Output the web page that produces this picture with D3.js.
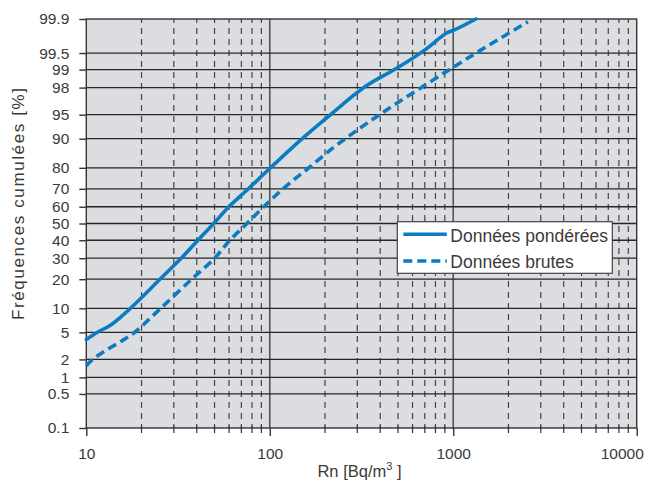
<!DOCTYPE html>
<html>
<head>
<meta charset="utf-8">
<script src="https://cdn.jsdelivr.net/npm/d3@7"></script>
<style>
body { margin: 0; background: #fff; }
svg { display: block; font-family: "Liberation Sans", Arial, sans-serif; }
</style>
</head>
<body>
<div id="chart"></div>
<script>
// radon concentrations (Bq/m3) and cumulative frequencies (%)
var rnPonderees = [10, 11.58, 13.46, 15.65, 18.43, 25.2, 32.8, 40.6, 49.5, 59.5, 76.5, 100.2, 149.2, 212.8, 334.5, 491.6, 686.3, 920.5, 1021.6, 1330];
var freqPonderees = [3.99, 5.06, 6.17, 8.12, 11.2, 19.96, 29.8, 40, 50, 59.7, 70, 79.8, 89.9, 94.94, 98.11, 99.05, 99.54, 99.8, 99.83, 99.9];

var rnBrutes = [10, 10.74, 12.64, 15.27, 18.43, 25.21, 37.5, 49.85, 60.3, 75.1, 93, 121, 161.5, 226.6, 310, 433.6, 658.4, 984, 1398, 2553];
var freqBrutes = [1.57, 1.96, 2.71, 3.67, 5.06, 9.82, 19.96, 29.8, 39.7, 50, 60.1, 70.9, 79.7, 87.8, 92.5, 95.7, 97.94, 99.06, 99.55, 99.885];

var seriesNames = ["Données pondérées", "Données brutes"];
var xTickValues = [10, 100, 1000, 10000];
var yTickValues = [0.1, 0.5, 1, 2, 5, 10, 20, 30, 40, 50, 60, 70, 80, 90, 95, 98, 99, 99.5, 99.9];
var yTickLabels = ["0.1", "0.5", "1", "2", "5", "10", "20", "30", "40", "50", "60", "70", "80", "90", "95", "98", "99", "99.5", "99.9"];

var blue = "#0a7cc2";
var textColor = "#3a3a3a";

// inverse normal cdf (Acklam), used for the probability axis
function probit(p) {
  var a = [-3.969683028665376e+01, 2.209460984245205e+02, -2.759285104469687e+02, 1.383577518672690e+02, -3.066479806614716e+01, 2.506628277459239e+00];
  var b = [-5.447609879822406e+01, 1.615858368580409e+02, -1.556989798598866e+02, 6.680131188771972e+01, -1.328068155288572e+01];
  var c = [-7.784894002430293e-03, -3.223964580411365e-01, -2.400758277161838e+00, -2.549732539343734e+00, 4.374664141464968e+00, 2.938163982698783e+00];
  var d = [7.784695709041462e-03, 3.224671290700398e-01, 2.445134137142996e+00, 3.754408661907416e+00];
  var pl = 0.02425, q, r;
  if (p < pl) {
    q = Math.sqrt(-2 * Math.log(p));
    return (((((c[0]*q+c[1])*q+c[2])*q+c[3])*q+c[4])*q+c[5]) / ((((d[0]*q+d[1])*q+d[2])*q+d[3])*q+1);
  }
  if (p > 1 - pl) {
    q = Math.sqrt(-2 * Math.log(1 - p));
    return -(((((c[0]*q+c[1])*q+c[2])*q+c[3])*q+c[4])*q+c[5]) / ((((d[0]*q+d[1])*q+d[2])*q+d[3])*q+1);
  }
  q = p - 0.5; r = q * q;
  return (((((a[0]*r+a[1])*r+a[2])*r+a[3])*r+a[4])*r+a[5])*q / (((((b[0]*r+b[1])*r+b[2])*r+b[3])*r+b[4])*r+1);
}

var margin = {top: 19, right: 10.3, bottom: 56, left: 86.3},
  width = 647 - margin.left - margin.right,
  height = 484 - margin.top - margin.bottom;

var svg = d3.select("#chart")
  .append("svg")
  .attr("width", 647)
  .attr("height", 484);

var chart = svg.append("g")
  .attr("transform", "translate(" + margin.left + "," + margin.top + ")");

var xScale = d3.scaleLog().domain([10, 10000]).range([0, width]);
var zScale = d3.scaleLinear().domain([probit(0.001), probit(0.999)]).range([height, 0]);
function yPos(pct) { return zScale(probit(pct / 100)); }

// background
chart.append("rect")
  .attr("width", width)
  .attr("height", height)
  .attr("fill", "#dcdde0");

// vertical grid
var minorX = xScale.ticks().filter(function(v) { return xTickValues.indexOf(v) < 0; });
chart.append("g").selectAll("line")
  .data(minorX)
  .enter().append("line")
  .attr("x1", function(d) { return xScale(d); })
  .attr("x2", function(d) { return xScale(d); })
  .attr("y1", height)
  .attr("y2", 0)
  .attr("stroke", "#444")
  .attr("stroke-width", 1.2)
  .attr("stroke-dasharray", "6,5")
  .attr("stroke-dashoffset", 2);

chart.append("g").selectAll("line")
  .data(xTickValues.slice(1, -1))
  .enter().append("line")
  .attr("x1", function(d) { return xScale(d); })
  .attr("x2", function(d) { return xScale(d); })
  .attr("y1", height)
  .attr("y2", 0)
  .attr("stroke", "#555")
  .attr("stroke-width", 1.6);

// horizontal grid
chart.append("g").selectAll("line")
  .data(yTickValues.slice(1, -1))
  .enter().append("line")
  .attr("x1", 0)
  .attr("x2", width)
  .attr("y1", function(d) { return yPos(d); })
  .attr("y2", function(d) { return yPos(d); })
  .attr("stroke", "#262626")
  .attr("stroke-width", 1.3);

// frame
chart.append("rect")
  .attr("width", width)
  .attr("height", height)
  .attr("fill", "none")
  .attr("stroke", "#333")
  .attr("stroke-width", 1.4);

// minor x ticks
chart.append("g").selectAll("line")
  .data(minorX)
  .enter().append("line")
  .attr("x1", function(d) { return xScale(d); })
  .attr("x2", function(d) { return xScale(d); })
  .attr("y1", height - 2)
  .attr("y2", height + 5)
  .attr("stroke", "#333")
  .attr("stroke-width", 1.2);

// axes
var bottomAxis = d3.axisBottom(xScale)
  .tickValues(xTickValues)
  .tickFormat(d3.format("d"))
  .tickSize(8)
  .tickSizeOuter(0)
  .tickPadding(12);

var leftAxis = d3.axisLeft(zScale)
  .tickValues(yTickValues.map(function(p) { return probit(p / 100); }))
  .tickFormat(function(d, i) { return yTickLabels[i]; })
  .tickSize(7)
  .tickSizeOuter(0)
  .tickPadding(10);

var gx = chart.append("g")
  .attr("transform", "translate(0," + height + ")")
  .call(bottomAxis);

var gy = chart.append("g")
  .call(leftAxis);

[gx, gy].forEach(function(g) {
  g.select(".domain").remove();
  g.selectAll(".tick line").attr("stroke", "#333").attr("stroke-width", 1.4);
  g.selectAll(".tick text")
    .attr("fill", textColor)
    .style("font-family", "'Liberation Sans', Arial, sans-serif")
    .style("font-size", "15.5px");
});
gx.selectAll(".tick text").filter(function(d) { return d === 10000; }).attr("dx", -15);

// curves
var line = d3.line()
  .x(function(d) { return xScale(d[0]); })
  .y(function(d) { return yPos(d[1]); })
  .curve(d3.curveCatmullRom.alpha(0.5));

chart.append("path")
  .datum(d3.zip(rnPonderees, freqPonderees))
  .attr("d", line)
  .attr("fill", "none")
  .attr("stroke", blue)
  .attr("stroke-width", 3.6)
  .attr("stroke-linecap", "round");

chart.append("path")
  .datum(d3.zip(rnBrutes, freqBrutes))
  .attr("d", line)
  .attr("fill", "none")
  .attr("stroke", blue)
  .attr("stroke-width", 3.6)
  .attr("stroke-dasharray", "9,5");

// legend
var legend = svg.append("g")
  .attr("transform", "translate(397.3,221.7)");

legend.append("rect")
  .attr("width", 215)
  .attr("height", 51.6)
  .attr("fill", "#fff")
  .attr("stroke", "#444")
  .attr("stroke-width", 1.2);

legend.selectAll("line")
  .data(seriesNames)
  .enter().append("line")
  .attr("x1", 6)
  .attr("x2", 49.5)
  .attr("y1", function(d, i) { return 12.6 + i * 26.7; })
  .attr("y2", function(d, i) { return 12.6 + i * 26.7; })
  .attr("stroke", blue)
  .attr("stroke-width", 3.6)
  .attr("stroke-dasharray", function(d, i) { return i ? "9,5" : null; });

legend.selectAll("text")
  .data(seriesNames)
  .enter().append("text")
  .attr("x", 53)
  .attr("y", function(d, i) { return 20 + i * 26; })
  .attr("fill", textColor)
  .style("font-size", "17.5px")
  .text(function(d) { return d; });

// axis titles
var xTitle = svg.append("text")
  .attr("x", margin.left + width / 2 - 2)
  .attr("y", 477)
  .attr("text-anchor", "middle")
  .attr("fill", textColor)
  .style("font-size", "16.5px");
xTitle.append("tspan").text("Rn [Bq/m");
xTitle.append("tspan").attr("dy", -7).style("font-size", "11px").text("3");
xTitle.append("tspan").attr("dy", 7).text(" ]");

svg.append("text")
  .attr("transform", "rotate(-90)")
  .attr("x", -204)
  .attr("y", 24)
  .attr("text-anchor", "middle")
  .attr("fill", textColor)
  .attr("textLength", 232)
  .attr("lengthAdjust", "spacing")
  .style("font-size", "17px")
  .text("Fréquences cumulées [%]");
</script>
</body>
</html>
